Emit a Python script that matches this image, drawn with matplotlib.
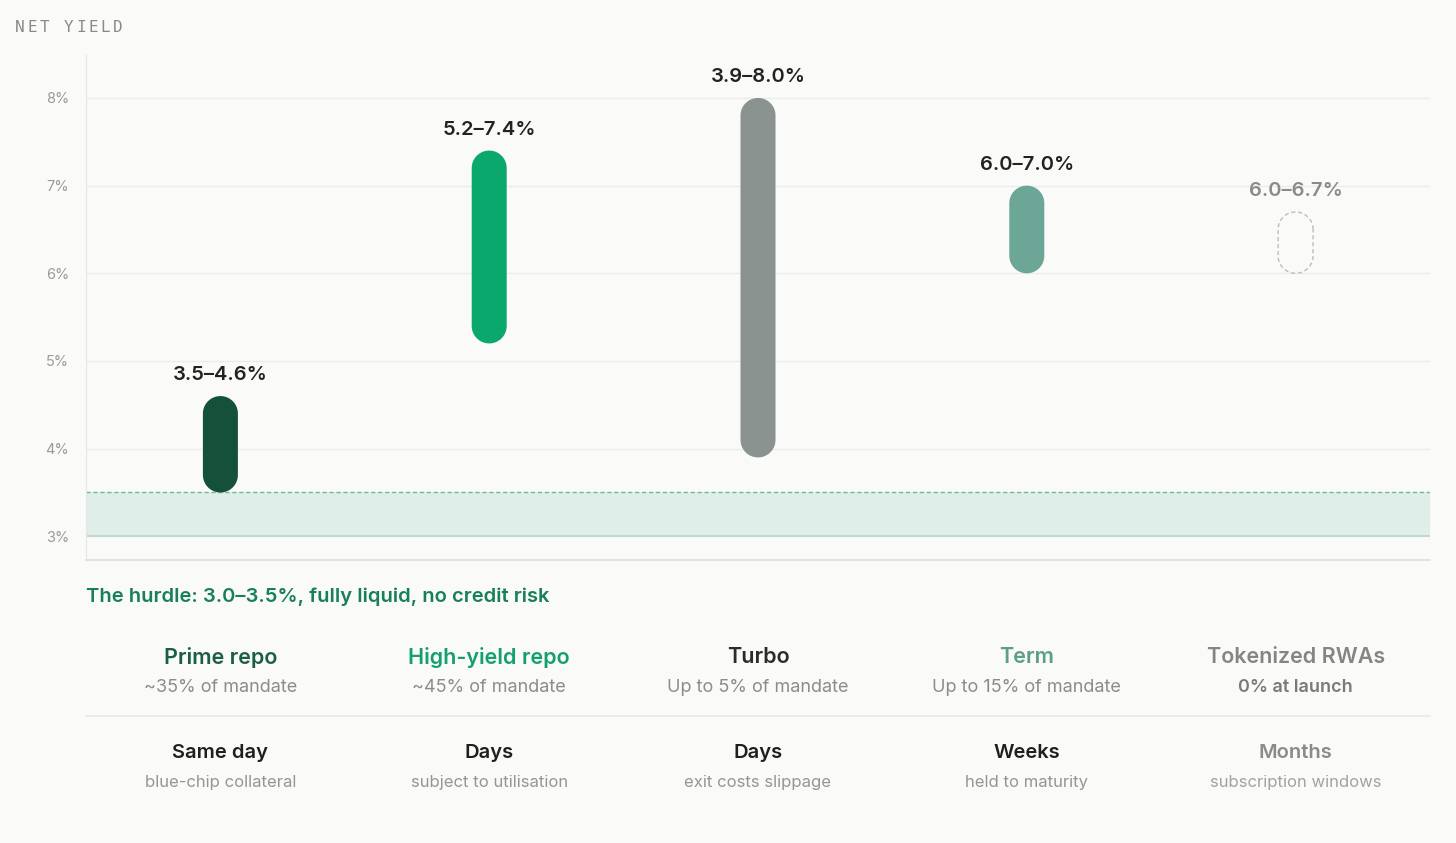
import matplotlib
matplotlib.use("Agg")
import numpy as np
import matplotlib.pyplot as plt
from matplotlib.patches import Polygon
from matplotlib import transforms

# data
products = ["Prime repo", "High-yield repo", "Turbo", "Term", "Tokenized RWAs"]
low = [3.5, 5.2, 3.9, 6.0, 6.0]
high = [4.6, 7.4, 8.0, 7.0, 6.7]
range_labels = ["3.5–4.6%", "5.2–7.4%", "3.9–8.0%", "6.0–7.0%", "6.0–6.7%"]
allocation = ["~35% of mandate", "~45% of mandate", "Up to 5% of mandate",
              "Up to 15% of mandate", "0% at launch"]
liquidity = ["Same day", "Days", "Days", "Weeks", "Months"]
liquidity_note = ["blue-chip collateral", "subject to utilisation", "exit costs slippage",
                  "held to maturity", "subscription windows"]
hurdle_low, hurdle_high = 3.0, 3.5
yticks = [3, 4, 5, 6, 7, 8]

# styles
bar_colors = ["#15513a", "#0ba86e", "#8a938f", "#6ba696", "none"]
name_colors = ["#1b5e45", "#13a06e", "#2b2b2b", "#5b9e89", "#858585"]
label_colors = ["#222222", "#222222", "#222222", "#222222", "#8a8a8a"]
bg = "#fafaf8"

W, H = 1456, 843
fig = plt.figure(figsize=(W / 100, H / 100), dpi=100, facecolor=bg)
plt.rcParams["font.family"] = ["Inter", "DejaVu Sans"]

ax_l, ax_r, ax_t, ax_b = 86, 1430, 55, 560
ax = fig.add_axes([ax_l / W, 1 - ax_b / H, (ax_r - ax_l) / W, (ax_b - ax_t) / H])
ax.set_facecolor(bg)
ymin, ymax = 2.73, 8.49
ax.set_xlim(0, 5)
ax.set_ylim(ymin, ymax)

px_x = (ax_r - ax_l) / 5.0
px_y = (ax_b - ax_t) / (ymax - ymin)

# grid
for t in yticks:
    ax.axhline(t, color="#ebebea", lw=1, zorder=0)
ax.set_yticks(yticks)
ax.set_yticklabels([f"{t}%" for t in yticks], color="#9a9a9a", fontsize=10.5)
ax.tick_params(axis="y", length=0, pad=12)
ax.set_xticks([])
for s in ["top", "right", "bottom"]:
    ax.spines[s].set_visible(False)
ax.spines["left"].set_color("#e6e6e6")

# hurdle band
ax.axhspan(hurdle_low, hurdle_high, color="#dfeee8", lw=0, zorder=1)
ax.axhline(hurdle_high, color="#6db8a0", lw=1, ls=(0, (3, 2)), zorder=2)
ax.axhline(hurdle_low, color="#b9d6ca", lw=1.2, zorder=2)


def pill(xc, lo, hi):
    # capsule outline in data units, round ends sized in pixels
    rx = 17.5 / px_x
    ry = 17.5 / px_y
    a1 = np.linspace(0, np.pi, 40)
    a2 = np.linspace(np.pi, 2 * np.pi, 40)
    xs = np.concatenate([xc + rx * np.cos(a1), xc + rx * np.cos(a2)])
    ys = np.concatenate([hi - ry + ry * np.sin(a1), lo + ry + ry * np.sin(a2)])
    return np.column_stack([xs, ys])


for i in range(len(products)):
    xc = i + 0.5
    pts = pill(xc, low[i], high[i])
    if bar_colors[i] == "none":
        p = Polygon(pts, closed=True, facecolor="none", edgecolor="#bdbdbd",
                    lw=1, ls=(0, (3, 2)), zorder=3)
    else:
        p = Polygon(pts, closed=True, facecolor=bar_colors[i], edgecolor="none", zorder=3)
    ax.add_patch(p)
    ax.annotate(range_labels[i], (xc, high[i]), xytext=(0, 15),
                textcoords="offset points", ha="center", va="center",
                fontsize=14.5, fontweight="semibold", color=label_colors[i])

# bottom rule of chart
fig.add_artist(plt.Line2D([ax_l / W, ax_r / W], [1 - ax_b / H] * 2,
                          color="#dcdcdc", lw=1.2))

# title
title = "NET YIELD"
for k, ch in enumerate(title):
    fig.text((15 + k * 12.2) / W, 1 - 28 / H, ch, family="DejaVu Sans Mono",
             fontsize=11.5, color="#8a8a8a", va="center", ha="left")

# hurdle text
fig.text(ax_l / W, 1 - 597 / H, "The hurdle: 3.0–3.5%, fully liquid, no credit risk",
         color="#17805a", fontsize=14.5, fontweight="semibold", va="center", ha="left")

# table under chart
tr = transforms.blended_transform_factory(ax.transData, fig.transFigure)
for i in range(len(products)):
    xc = i + 0.5
    ax.text(xc, 1 - 657 / H, products[i], transform=tr, ha="center", va="center",
            fontsize=15.5, fontweight="semibold", color=name_colors[i])
    sub_w = "semibold" if i == 4 else "normal"
    sub_c = "#7a7a7a" if i == 4 else "#8c8c8c"
    ax.text(xc, 1 - 688 / H, allocation[i], transform=tr, ha="center", va="center",
            fontsize=13, fontweight=sub_w, color=sub_c)
    ax.text(xc, 1 - 753 / H, liquidity[i], transform=tr, ha="center", va="center",
            fontsize=14.5, fontweight="semibold",
            color="#8a8a8a" if i == 4 else "#1f1f1f")
    ax.text(xc, 1 - 782 / H, liquidity_note[i], transform=tr, ha="center", va="center",
            fontsize=12, color="#a2a2a2" if i == 4 else "#959595")

fig.add_artist(plt.Line2D([ax_l / W, ax_r / W], [1 - 716 / H] * 2,
                          color="#e8e8e8", lw=1.2))

fig.savefig("out.png", dpi=100, facecolor=bg)
